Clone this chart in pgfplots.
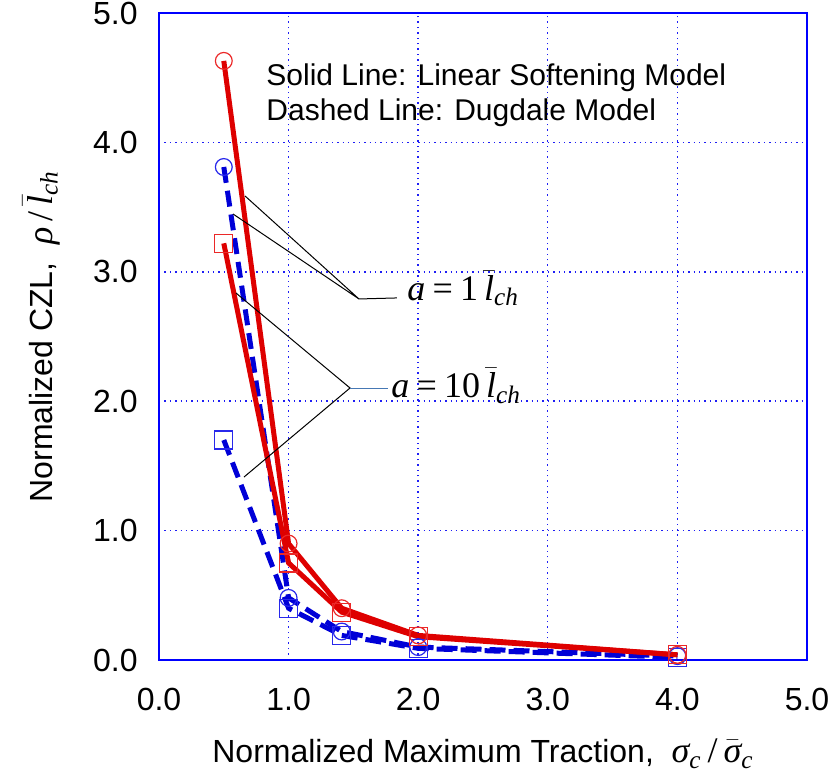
\documentclass[border=0pt]{standalone}
\usepackage{fontspec}
\setmainfont{Liberation Sans}
\newfontfamily\tms{Liberation Serif}
\usepackage{pgfplots}
\pgfplotsset{compat=1.18}
\definecolor{lred}{RGB}{222,0,0}
\definecolor{mred}{RGB}{235,40,40}
\definecolor{lblue}{RGB}{0,0,215}
\definecolor{mblue}{RGB}{40,40,235}
\definecolor{gblue}{RGB}{30,30,245}
\definecolor{steel}{RGB}{70,120,180}
\newcommand{\ti}[1]{{\tms\itshape #1}}
\newcommand{\bti}[1]{$\bar{\hbox{\tms\itshape #1}}$}
\begin{document}
\begin{tikzpicture}
\path[use as bounding box] (-79.5pt,-58pt) rectangle (338.5pt,330pt);
\begin{axis}[
  anchor=south west, at={(0,0)},
  scale only axis, width=324pt, height=323.5pt,
  xmin=0, xmax=5, ymin=0, ymax=5,
  xtick={0,1,2,3,4,5}, ytick={0,1,2,3,4,5},
  grid=major,
  grid style={gblue, dash pattern=on 0.7pt off 2pt, line width=0.7pt},
  major grid style={gblue, dash pattern=on 0.7pt off 2pt, line width=0.7pt},
  axis line style={blue, line width=0.6pt},
  major tick length=0pt,
  /pgf/number format/assume math mode=true,
  tick label style={font=\fontsize{16}{19}\selectfont, inner sep=0pt},
  xticklabel style={anchor=north, yshift=-14pt},
  yticklabel style={anchor=east, xshift=-10.5pt},
  xticklabel={\pgfmathprintnumber[fixed,fixed zerofill,precision=1]{\tick}},
  yticklabel={\pgfmathprintnumber[fixed,fixed zerofill,precision=1]{\tick}},
  label style={font=\fontsize{16}{19}\selectfont},
  xlabel={Normalized Maximum Traction,\ \ {\fontsize{18}{20}\selectfont\ti{σ}\textsubscript{\ti{c}}\,{\tms/}\,\bti{σ}\textsubscript{\ti{c}}}},
  ylabel={Normalized CZL,\ \ {\fontsize{18}{20}\selectfont\ti{ρ}\,{\tms/}\,\bti{l}\textsubscript{\ti{ch}}}},
  xlabel style={at={(axis description cs:0.5,-0.159)}, anchor=base},
  ylabel style={at={(axis description cs:-0.165,0.5)}, anchor=base, rotate=0},
  clip=false,
]
% Dugdale, a = 10 (blue squares)
\addplot[lblue, line width=2.5pt, dash pattern=on 8pt off 4pt,
  mark=square, mark size=4.5pt, mark options={solid, mblue, line width=0.6pt}]
  coordinates {(0.5,1.70) (1.0,0.40) (1.41,0.19) (2.0,0.09) (4.0,0.02)};
% Dugdale, a = 1 (blue circles)
\addplot[lblue, line width=2.5pt, dash pattern=on 8pt off 4pt,
  mark=o, mark size=4.2pt, mark options={solid, mblue, line width=0.6pt}]
  coordinates {(0.5,3.81) (1.0,0.48) (1.41,0.22) (2.0,0.10) (4.0,0.03)};
% Linear softening, a = 10 (red squares)
\addplot[lred, line width=2.5pt,
  mark=square, mark size=4.5pt, mark options={mred, line width=0.6pt}]
  coordinates {(0.5,3.22) (1.0,0.75) (1.41,0.37) (2.0,0.18) (4.0,0.04)};
% Linear softening, a = 1 (red circles)
\addplot[lred, line width=2.5pt,
  mark=o, mark size=4.2pt, mark options={mred, line width=0.6pt}]
  coordinates {(0.5,4.63) (1.0,0.90) (1.41,0.40) (2.0,0.19) (4.0,0.04)};
% annotations
\node[anchor=base west, font=\fontsize{15}{18}\selectfont, inner sep=0pt] at (axis cs:0.826,4.44) {Solid Line: Linear Softening Model};
\node[anchor=base west, font=\fontsize{15}{18}\selectfont, inner sep=0pt] at (axis cs:0.826,4.17) {Dashed Line: Dugdale Model};
\draw[black, line width=0.5pt] (axis cs:0.664,3.586) -- (axis cs:1.543,2.790) -- (axis cs:0.571,3.447);
\draw[black, line width=0.5pt] (axis cs:1.543,2.790) -- (axis cs:1.836,2.798);
\draw[black, line width=0.5pt] (axis cs:0.594,2.836) -- (axis cs:1.474,2.102) -- (axis cs:0.656,1.414);
\draw[steel, line width=0.5pt] (axis cs:1.474,2.102) -- (axis cs:1.767,2.102);
\node[anchor=base west, font=\fontsize{18}{22}\selectfont\tms, inner sep=0pt] at (axis cs:1.914,2.78) {\ti{a}\hspace{0.2em}=\hspace{0.2em}1\,\bti{l}\textsubscript{\ti{ch}}};
\node[anchor=base west, font=\fontsize{18}{22}\selectfont\tms, inner sep=0pt] at (axis cs:1.79,2.025) {\ti{a}\hspace{0.2em}=\hspace{0.2em}10\,\bti{l}\textsubscript{\ti{ch}}};
\end{axis}
\end{tikzpicture}
\end{document}
